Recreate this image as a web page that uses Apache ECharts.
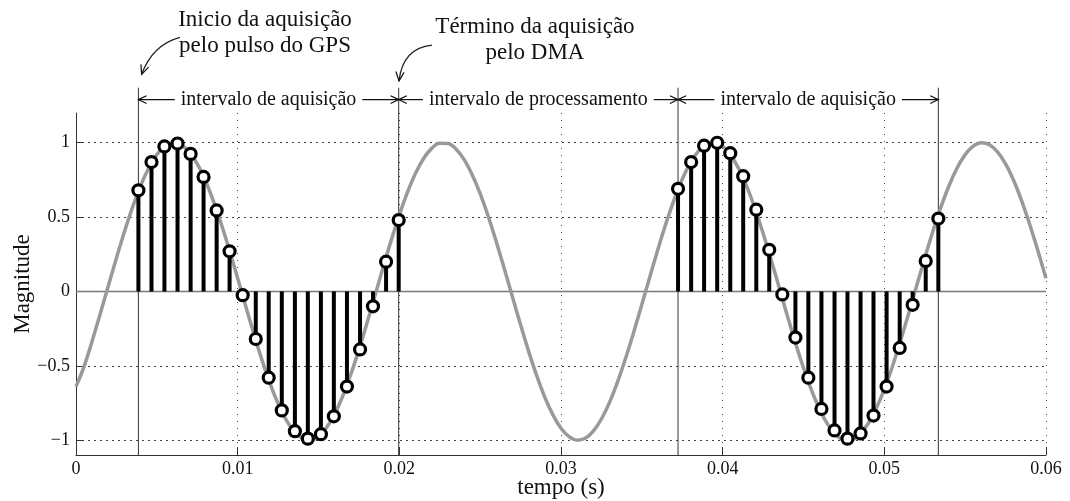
<!DOCTYPE html>
<html>
<head>
<meta charset="utf-8">
<script src="https://cdn.jsdelivr.net/npm/echarts@6/dist/echarts.min.js"></script>
<style>
html,body{margin:0;padding:0;background:#fff;}
#chart{width:1070px;height:501px;}
</style>
</head>
<body>
<div id="chart"></div>
<script>
// ---------------- data ----------------
const curveTimes = [0,0.0005,0.001,0.0015,0.002,0.0025,0.003,0.0035,0.004,0.0045,0.005,0.0055,0.006,0.0065,0.007,0.0075,0.008,0.0085,0.009,0.0095,
  0.010,0.0105,0.011,0.0115,0.012,0.0125,0.013,0.0135,0.014,0.0145,0.015,0.0155,0.016,0.0165,0.017,0.0175,0.018,0.0185,0.019,0.0195,
  0.020,0.0205,0.021,0.0215,0.022,0.0225,0.023,0.0235,0.024,0.0245,0.025,0.0255,0.026,0.0265,0.027,0.0275,0.028,0.0285,0.029,0.0295,
  0.030,0.0305,0.031,0.0315,0.032,0.0325,0.033,0.0335,0.034,0.0345,0.035,0.0355,0.036,0.0365,0.037,0.0375,0.038,0.0385,0.039,0.0395,
  0.040,0.0405,0.041,0.0415,0.042,0.0425,0.043,0.0435,0.044,0.0445,0.045,0.0455,0.046,0.0465,0.047,0.0475,0.048,0.0485,0.049,0.0495,
  0.050,0.0505,0.051,0.0515,0.052,0.0525,0.053,0.0535,0.054,0.0545,0.055,0.0555,0.056,0.0565,0.057,0.0575,0.058,0.0585,0.059,0.0595,0.060];
const curveValues = [-0.640,-0.504,-0.333,-0.150,0.038,0.224,0.403,0.567,0.712,0.830,0.920,0.977,1.000,0.987,0.939,0.858,0.746,0.608,0.448,0.273,
  0.088,-0.100,-0.285,-0.460,-0.618,-0.754,-0.864,-0.943,-0.989,-0.999,-0.975,-0.915,-0.824,-0.703,-0.557,-0.391,-0.212,-0.025,0.163,0.345,
  0.514,0.666,0.794,0.894,0.962,0.996,0.995,0.958,0.888,0.786,0.657,0.504,0.333,0.150,-0.038,-0.224,-0.403,-0.567,-0.712,-0.830,
  -0.920,-0.977,-1.000,-0.987,-0.939,-0.858,-0.746,-0.608,-0.448,-0.273,-0.088,0.100,0.285,0.460,0.618,0.754,0.864,0.943,0.989,0.999,
  0.975,0.915,0.824,0.703,0.557,0.391,0.212,0.025,-0.163,-0.345,-0.514,-0.666,-0.794,-0.894,-0.962,-0.996,-0.995,-0.958,-0.888,-0.786,
  -0.657,-0.504,-0.333,-0.150,0.038,0.224,0.403,0.567,0.711,0.830,0.920,0.977,1.000,0.987,0.939,0.858,0.746,0.608,0.449,0.273,0.088];

const acq1Times = [0.00386,0.00467,0.00547,0.00628,0.00709,0.00789,0.00870,0.00950,0.01031,0.01112,0.01192,0.01273,0.01354,0.01434,0.01515,0.01595,0.01676,0.01757,0.01837,0.01918,0.01996];
const acq1Values = [0.68,0.87,0.975,0.995,0.925,0.77,0.545,0.27,-0.025,-0.32,-0.58,-0.80,-0.94,-0.99,-0.96,-0.84,-0.64,-0.39,-0.10,0.20,0.48];

const acq2Times = [0.03724,0.03805,0.03885,0.03966,0.04047,0.04127,0.04208,0.04288,0.04369,0.04450,0.04530,0.04611,0.04692,0.04772,0.04853,0.04933,0.05014,0.05095,0.05175,0.05256,0.05334];
const acq2Values = [0.69,0.87,0.98,1.0,0.93,0.775,0.55,0.28,-0.02,-0.31,-0.58,-0.79,-0.935,-0.99,-0.955,-0.835,-0.64,-0.38,-0.09,0.205,0.49];

const boundaryTimes = [0.00386, 0.01996, 0.03724, 0.05334];
const intervalLabels = ['intervalo de aquisição', 'intervalo de processamento', 'intervalo de aquisição'];
const noteTexts = ['Inicio da aquisição\npelo pulso do GPS', 'Término da aquisição\npelo DMA'];

const xTickValues = [0, 0.01, 0.02, 0.03, 0.04, 0.05, 0.06];
const yTickValues = [-1, -0.5, 0, 0.5, 1];
const xAxisTitle = 'tempo (s)';
const yAxisTitle = 'Magnitude';

// ---------------- layout (annotation placement, in data units) ----------------
const X_MIN = 0, X_MAX = 0.06, Y_MIN = -1.1, Y_MAX = 1.2;
const ARROW_ROW_Y = 1.29;
const BOUNDARY_TOP_Y = 1.37;
const noteCenters = [[0.01169, 1.735], [0.02839, 1.69]];
const noteArrows = [
  {start:[0.00643, 1.709], ctrl:[0.00473, 1.659], end:[0.00406, 1.460]},
  {start:[0.02202, 1.657], ctrl:[0.02020, 1.637], end:[0.01998, 1.415]}
];

const SERIF = '"Liberation Serif", "Times New Roman", serif';

const measureCtx = document.createElement('canvas').getContext('2d');
function textWidth(str, size) {
  measureCtx.font = size + 'px ' + SERIF;
  return measureCtx.measureText(str).width;
}
function arrowHead(tip, from, len, ang) {
  const dx = from[0] - tip[0], dy = from[1] - tip[1];
  const d = Math.sqrt(dx*dx + dy*dy) || 1;
  const ux = dx / d, uy = dy / d;
  const c = Math.cos(ang), s = Math.sin(ang);
  const w1 = [tip[0] + len*(ux*c - uy*s), tip[1] + len*(ux*s + uy*c)];
  const w2 = [tip[0] + len*(ux*c + uy*s), tip[1] + len*(-ux*s + uy*c)];
  return {type:'polyline', shape:{points:[w1, tip, w2]}, style:{stroke:'#111', lineWidth:1.2, fill:null}};
}

function renderDecor(params, api) {
  const ch = [];
  const z0 = api.coord([X_MIN, 0]), z1 = api.coord([X_MAX, 0]);
  ch.push({type:'line', shape:{x1:z0[0], y1:z0[1], x2:z1[0], y2:z1[1]}, style:{stroke:'#7a7a7a', lineWidth:1.6}});
  boundaryTimes.forEach(function (t) {
    const a = api.coord([t, Y_MIN]), b = api.coord([t, BOUNDARY_TOP_Y]);
    ch.push({type:'line', shape:{x1:a[0], y1:a[1], x2:b[0], y2:b[1]}, style:{stroke:'#333', lineWidth:1}});
  });
  const fs = 20;
  intervalLabels.forEach(function (lab, i) {
    const L = api.coord([boundaryTimes[i], ARROW_ROW_Y]);
    const R = api.coord([boundaryTimes[i+1], ARROW_ROW_Y]);
    const mid = (L[0] + R[0]) / 2, y = L[1];
    const w = textWidth(lab, fs);
    const gap = 6;
    const lEnd = [mid - w/2 - gap, y], rStart = [mid + w/2 + gap, y];
    ch.push({type:'line', shape:{x1:L[0], y1:y, x2:lEnd[0], y2:y}, style:{stroke:'#111', lineWidth:1.2}});
    ch.push({type:'line', shape:{x1:rStart[0], y1:y, x2:R[0], y2:y}, style:{stroke:'#111', lineWidth:1.2}});
    ch.push(arrowHead([L[0], y], lEnd, 9, 0.45));
    ch.push(arrowHead([R[0], y], rStart, 9, 0.45));
    ch.push({type:'text', style:{text:lab, x:mid, y:y, textAlign:'center', textVerticalAlign:'middle', font: fs + 'px ' + SERIF, fill:'#111'}});
  });
  noteTexts.forEach(function (txt, i) {
    const p = api.coord(noteCenters[i]);
    ch.push({type:'text', style:{text:txt, x:p[0], y:p[1], textAlign:'center', textVerticalAlign:'middle', font:'23px ' + SERIF, lineHeight:26, fill:'#111'}});
  });
  noteArrows.forEach(function (a) {
    const s = api.coord(a.start), c = api.coord(a.ctrl), e = api.coord(a.end);
    ch.push({type:'bezierCurve', shape:{x1:s[0], y1:s[1], x2:e[0], y2:e[1], cpx1:c[0], cpy1:c[1]}, style:{stroke:'#222', lineWidth:1.3, fill:null}});
    ch.push(arrowHead(e, c, 10, 0.42));
  });
  return {type:'group', children:ch};
}

function renderStem(params, api) {
  const x = api.value(0), y = api.value(1);
  const a = api.coord([x, 0]), b = api.coord([x, y]);
  return {type:'line', shape:{x1:a[0], y1:a[1], x2:b[0], y2:b[1]}, style:{stroke:'#000', lineWidth:4}};
}

const curveData = curveTimes.map(function (t, i) { return [t, curveValues[i]]; });
const sampleData = acq1Times.map(function (t, i) { return [t, acq1Values[i]]; })
  .concat(acq2Times.map(function (t, i) { return [t, acq2Values[i]]; }));

const fmtNum = function (v) {
  const s = String(Math.round(v * 1000) / 1000);
  return v < 0 ? '\u2212' + s.slice(1) : s;
};

const option = {
  animation: false,
  backgroundColor: '#fff',
  grid: {left:76, right:24, top:113, bottom:46, containLabel:false, outerBoundsMode:'none'},
  xAxis: {
    type:'value', min:X_MIN, max:X_MAX, interval:0.01,
    name: xAxisTitle, nameLocation:'middle', nameGap:21, nameMoveOverlap:false,
    nameTextStyle:{fontFamily:SERIF, fontSize:23, color:'#111'},
    axisLine:{show:true, onZero:false, lineStyle:{color:'#333', width:1}},
    axisTick:{show:true, inside:true, length:8, customValues:xTickValues, lineStyle:{color:'#333'}},
    axisLabel:{customValues:xTickValues, fontFamily:SERIF, fontSize:18, color:'#111', margin:5, formatter:fmtNum},
    splitLine:{show:true, lineStyle:{color:'#444', width:1, type:[1,6]}}
  },
  yAxis: {
    type:'value', min:Y_MIN, max:Y_MAX,
    name: yAxisTitle, nameLocation:'middle', nameGap:42, nameMoveOverlap:false,
    nameTextStyle:{fontFamily:SERIF, fontSize:23, color:'#111'},
    axisLine:{show:true, onZero:false, lineStyle:{color:'#333', width:1}},
    axisTick:{show:true, inside:true, length:8, customValues:yTickValues, lineStyle:{color:'#333'}},
    axisLabel:{customValues:yTickValues, fontFamily:SERIF, fontSize:18, color:'#111', margin:6, formatter:fmtNum},
    splitLine:{show:true, lineStyle:{color:'#444', width:1, type:[2,4]}}
  },
  series: [
    {type:'custom', name:'decor', data:[[0,0]], renderItem:renderDecor, clip:false, silent:true, z:1, encode:{x:0, y:1}},
    {type:'line', name:'sinal', data:curveData, smooth:0.4, showSymbol:false, lineStyle:{color:'#999', width:3.5}, z:2, silent:true},
    {type:'custom', name:'hastes', data:sampleData, renderItem:renderStem, z:3, encode:{x:0, y:1}, silent:true},
    {type:'scatter', name:'amostras', data:sampleData, symbol:'circle', symbolSize:11,
      itemStyle:{color:'#fff', borderColor:'#000', borderWidth:3.2, opacity:1}, z:4, silent:true}
  ]
};

const chart = echarts.init(document.getElementById('chart'));
chart.setOption(option);
</script>
</body>
</html>
